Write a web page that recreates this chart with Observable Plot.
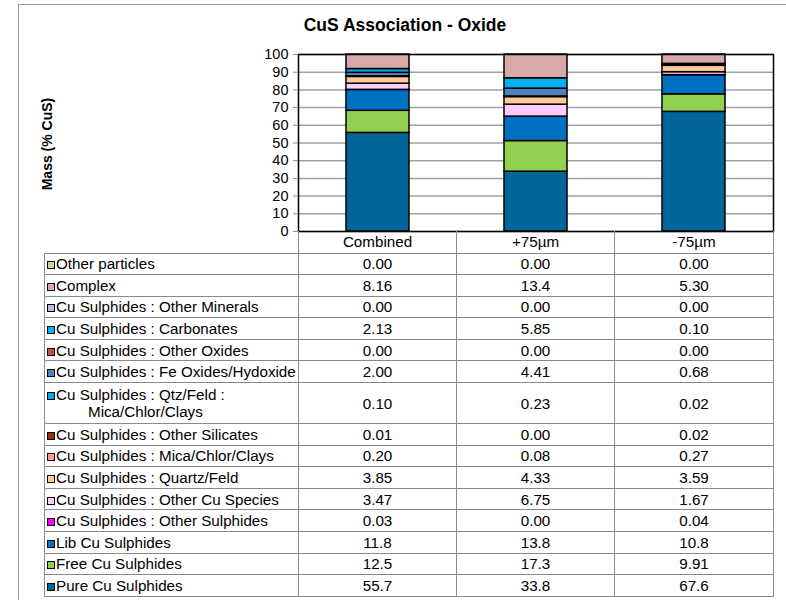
<!DOCTYPE html>
<html>
<head>
<meta charset="utf-8">
<script src="https://cdn.jsdelivr.net/npm/d3@7"></script>
<script src="https://cdn.jsdelivr.net/npm/@observablehq/plot@0.6"></script>
<style>
  html, body { margin: 0; padding: 0; background: #fff; }
  body { font-family: "Liberation Sans", Arial, sans-serif; }
  #wrap { position: relative; width: 786px; height: 600px; overflow: hidden; }
  #frame { position: absolute; left: 18px; top: 4px; width: 800px; height: 620px;
           border-left: 1.5px solid #9a9a9a; border-top: 1.5px solid #9a9a9a; box-sizing: border-box; }
  #title { position: absolute; left: 0; width: 810px; top: 15px; text-align: center;
           font-weight: bold; font-size: 17.5px; color: #000; }
  #ylabel { position: absolute; left: 47px; top: 144px; transform: translate(-50%, -50%) rotate(-90deg);
            font-weight: bold; font-size: 14px; white-space: nowrap; color: #000; }
  #chart { position: absolute; left: 0; top: 0; }
  #tbl { position: absolute; left: 44px; top: 231px; border-collapse: collapse;
         font-size: 15.2px; color: #000; table-layout: fixed; }
  #tbl td { border: 1.6px solid #8a8a8a; padding: 0; line-height: 17px; }
  #tbl td.num { text-align: center; }
  #tbl td.lab { padding-left: 2px; white-space: nowrap; }
  #tbl tr.hdr td.blank { border: none; border-right: 1.6px solid #8a8a8a; }
  #tbl tr.hdr td { border-top: none; }
  .sw { display: inline-block; width: 6px; height: 6px; border: 1.6px solid #000; margin-right: 1px; vertical-align: 0px; }
</style>
</head>
<body>
<div id="wrap">
  <div id="frame"></div>
  <div id="title">CuS Association - Oxide</div>
  <div id="ylabel">Mass (% CuS)</div>
  <div id="chart"></div>
  <table id="tbl"></table>
</div>
<script>
// Samples (columns)
const samples = ["Combined", "+75µm", "-75µm"];

// Categories in table order (top row first)
const categories = [
  "Other particles",
  "Complex",
  "Cu Sulphides : Other Minerals",
  "Cu Sulphides : Carbonates",
  "Cu Sulphides : Other Oxides",
  "Cu Sulphides : Fe Oxides/Hydoxide",
  "Cu Sulphides : Qtz/Feld : Mica/Chlor/Clays",
  "Cu Sulphides : Other Silicates",
  "Cu Sulphides : Mica/Chlor/Clays",
  "Cu Sulphides : Quartz/Feld",
  "Cu Sulphides : Other Cu Species",
  "Cu Sulphides : Other Sulphides",
  "Lib Cu Sulphides",
  "Free Cu Sulphides",
  "Pure Cu Sulphides"
];

const colors = [
  "#C4D79B", "#D9A9A9", "#B3C0DC", "#00B0F0", "#C0504D",
  "#4F81BD", "#00A6E8", "#993300", "#FF9999", "#FFCC99",
  "#FFCCFF", "#FF00FF", "#0070C0", "#92D050", "#006699"
];

const combined = [0.00, 8.16, 0.00, 2.13, 0.00, 2.00, 0.10, 0.01, 0.20, 3.85, 3.47, 0.03, 11.8, 12.5, 55.7];
const plus75   = [0.00, 13.4, 0.00, 5.85, 0.00, 4.41, 0.23, 0.00, 0.08, 4.33, 6.75, 0.00, 13.8, 17.3, 33.8];
const minus75  = [0.00, 5.30, 0.00, 0.10, 0.00, 0.68, 0.02, 0.02, 0.27, 3.59, 1.67, 0.04, 10.8, 9.91, 67.6];

const yTicks = [0, 10, 20, 30, 40, 50, 60, 70, 80, 90, 100];

const seriesValues = [combined, plus75, minus75];

// Build long data, bottom of stack first (reverse of table order)
const rows = [];
for (let c = categories.length - 1; c >= 0; c--) {
  samples.forEach((s, i) => rows.push({sample: s, category: categories[c], value: seriesValues[i][c]}));
}

const chart = Plot.plot({
  width: 786,
  height: 243,
  marginLeft: 298,
  marginRight: 13,
  marginTop: 54,
  marginBottom: 12,
  style: {fontFamily: "'Liberation Sans', Arial, sans-serif", fontSize: "14.5px", color: "#000", background: "transparent"},
  x: {domain: samples, paddingInner: 0.6, paddingOuter: 0.3, axis: null},
  y: {domain: [0, 100], ticks: yTicks, label: null, tickSize: 5, tickPadding: 5},
  color: {domain: categories, range: colors},
  marks: [
    Plot.gridY(yTicks, {stroke: "#a0a0a0", strokeOpacity: 1, strokeWidth: 1.5}),
    Plot.barY(rows, {x: "sample", y: "value", fill: "category", stroke: "#000", strokeWidth: 1.5, order: null}),
    Plot.frame({stroke: "#000", strokeWidth: 1.5}),
    Plot.axisY(yTicks, {tickSize: 5, tickPadding: 5, stroke: "#8a8a8a", fill: "#000", fontSize: 14.5, label: null})
  ]
});
document.getElementById("chart").appendChild(chart);

// Table
const fmt = v => v >= 10 ? v.toFixed(1) : v.toFixed(2);
const tbl = document.getElementById("tbl");
const colgroup = document.createElement("colgroup");
[254, 158, 158, 159].forEach(w => { const c = document.createElement("col"); c.style.width = w + "px"; colgroup.appendChild(c); });
tbl.appendChild(colgroup);
const hdr = document.createElement("tr");
hdr.className = "hdr";
hdr.style.height = "22px";
hdr.innerHTML = `<td class="blank"></td>` + samples.map(s => `<td class="num">${s}</td>`).join("");
tbl.appendChild(hdr);
categories.forEach((cat, i) => {
  const tr = document.createElement("tr");
  let label = cat;
  tr.style.height = "21.6px";
  if (cat === "Cu Sulphides : Qtz/Feld : Mica/Chlor/Clays") {
    label = `Cu Sulphides : Qtz/Feld :<br><span style="padding-left:41px">Mica/Chlor/Clays</span>`;
    tr.style.height = "41px";
  }
  tr.innerHTML = `<td class="lab"><span class="sw" style="background:${colors[i]}"></span>${label}</td>` +
    seriesValues.map(v => `<td class="num">${fmt(v[i])}</td>`).join("");
  tbl.appendChild(tr);
});
</script>
</body>
</html>
